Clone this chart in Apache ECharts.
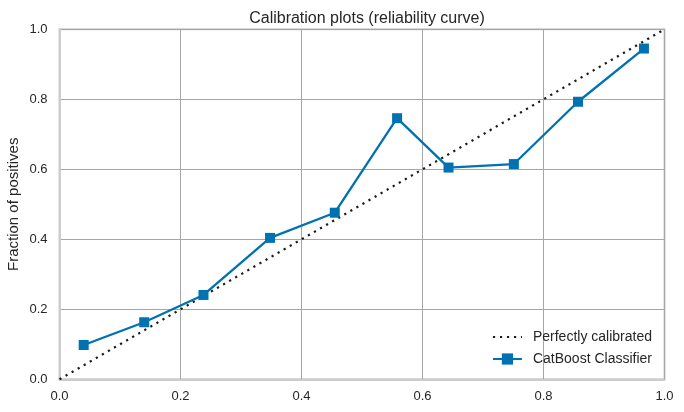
<!DOCTYPE html>
<html>
<head>
<meta charset="utf-8">
<script src="https://cdn.jsdelivr.net/npm/echarts@6/dist/echarts.min.js"></script>
<style>
    html, body { margin: 0; padding: 0; background: #fff; }
    #chart { width: 684px; height: 412px; }
</style>
</head>
<body>
<div id="chart"></div>
<script>
    // mean predicted value per bin
    var meanPredicted = [0.040, 0.140, 0.238, 0.348, 0.455, 0.558, 0.643, 0.751, 0.857, 0.966];
    // fraction of positives per bin
    var fractionPositives = [0.098, 0.163, 0.241, 0.404, 0.476, 0.746, 0.605, 0.615, 0.793, 0.945];
    var perfectLine = [[0, 0], [1, 1]];
    var axisTicks = [0, 0.2, 0.4, 0.6, 0.8, 1.0];

    var font = "'Liberation Sans', Arial, sans-serif";
    var textColor = '#262626';
    var chart = echarts.init(document.getElementById('chart'));

    var curve = [];
    for (var i = 0; i < meanPredicted.length; i++) {
        curve.push([meanPredicted[i], fractionPositives[i]]);
    }

    function axis(labelMargin, extra) {
        var a = {
            type: 'value',
            min: axisTicks[0],
            max: axisTicks[axisTicks.length - 1],
            interval: axisTicks[1] - axisTicks[0],
            axisLine: { show: true, lineStyle: { color: '#cccccc', width: 2 } },
            axisTick: { show: false },
            splitLine: { show: true, lineStyle: { color: '#a6a6a6', width: 1 } },
            axisLabel: {
                color: textColor, fontSize: 13, fontFamily: font, margin: labelMargin,
                formatter: function (v) { return v.toFixed(1); }
            }
        };
        for (var k in extra) a[k] = extra[k];
        return a;
    }

    var option = {
        animation: false,
        backgroundColor: '#fff',
        title: {
            text: 'Calibration plots (reliability curve)',
            left: 362, top: 6, textAlign: 'center',
            textStyle: { color: textColor, fontSize: 16, fontWeight: 'normal', fontFamily: font }
        },
        grid: {
            left: 59.5, right: 19.5, top: 29.3, bottom: 32.7,
            outerBoundsMode: 'none',
            show: true, borderColor: '#cccccc', borderWidth: 2
        },
        legend: {
            orient: 'vertical', right: 27, top: 325,
            itemWidth: 29, itemHeight: 14, itemGap: 8,
            textStyle: { color: textColor, fontSize: 14, fontFamily: font, padding: [0, 0, 0, 6] },
            data: [
                { name: 'Perfectly calibrated', itemStyle: { opacity: 0 } },
                { name: 'CatBoost Classifier' }
            ]
        },
        xAxis: axis(11, {}),
        yAxis: axis(12, {
            name: 'Fraction of positives', nameLocation: 'middle', nameRotate: 90, nameGap: 38,
            nameMoveOverlap: false,
            nameTextStyle: { color: textColor, fontSize: 15, fontFamily: font }
        }),
        series: [
            {
                name: 'Perfectly calibrated',
                type: 'line',
                data: perfectLine,
                symbol: 'none',
                lineStyle: { color: '#1a1a1a', width: 2.2, type: [2.2, 4.8] },
                itemStyle: { color: '#1a1a1a' },
                z: 3
            },
            {
                name: 'CatBoost Classifier',
                type: 'line',
                data: curve,
                symbol: 'rect',
                symbolSize: 10,
                lineStyle: { color: '#0072b2', width: 2.3 },
                itemStyle: { color: '#0072b2' },
                z: 4
            }
        ]
    };
    chart.setOption(option);
</script>
</body>
</html>
